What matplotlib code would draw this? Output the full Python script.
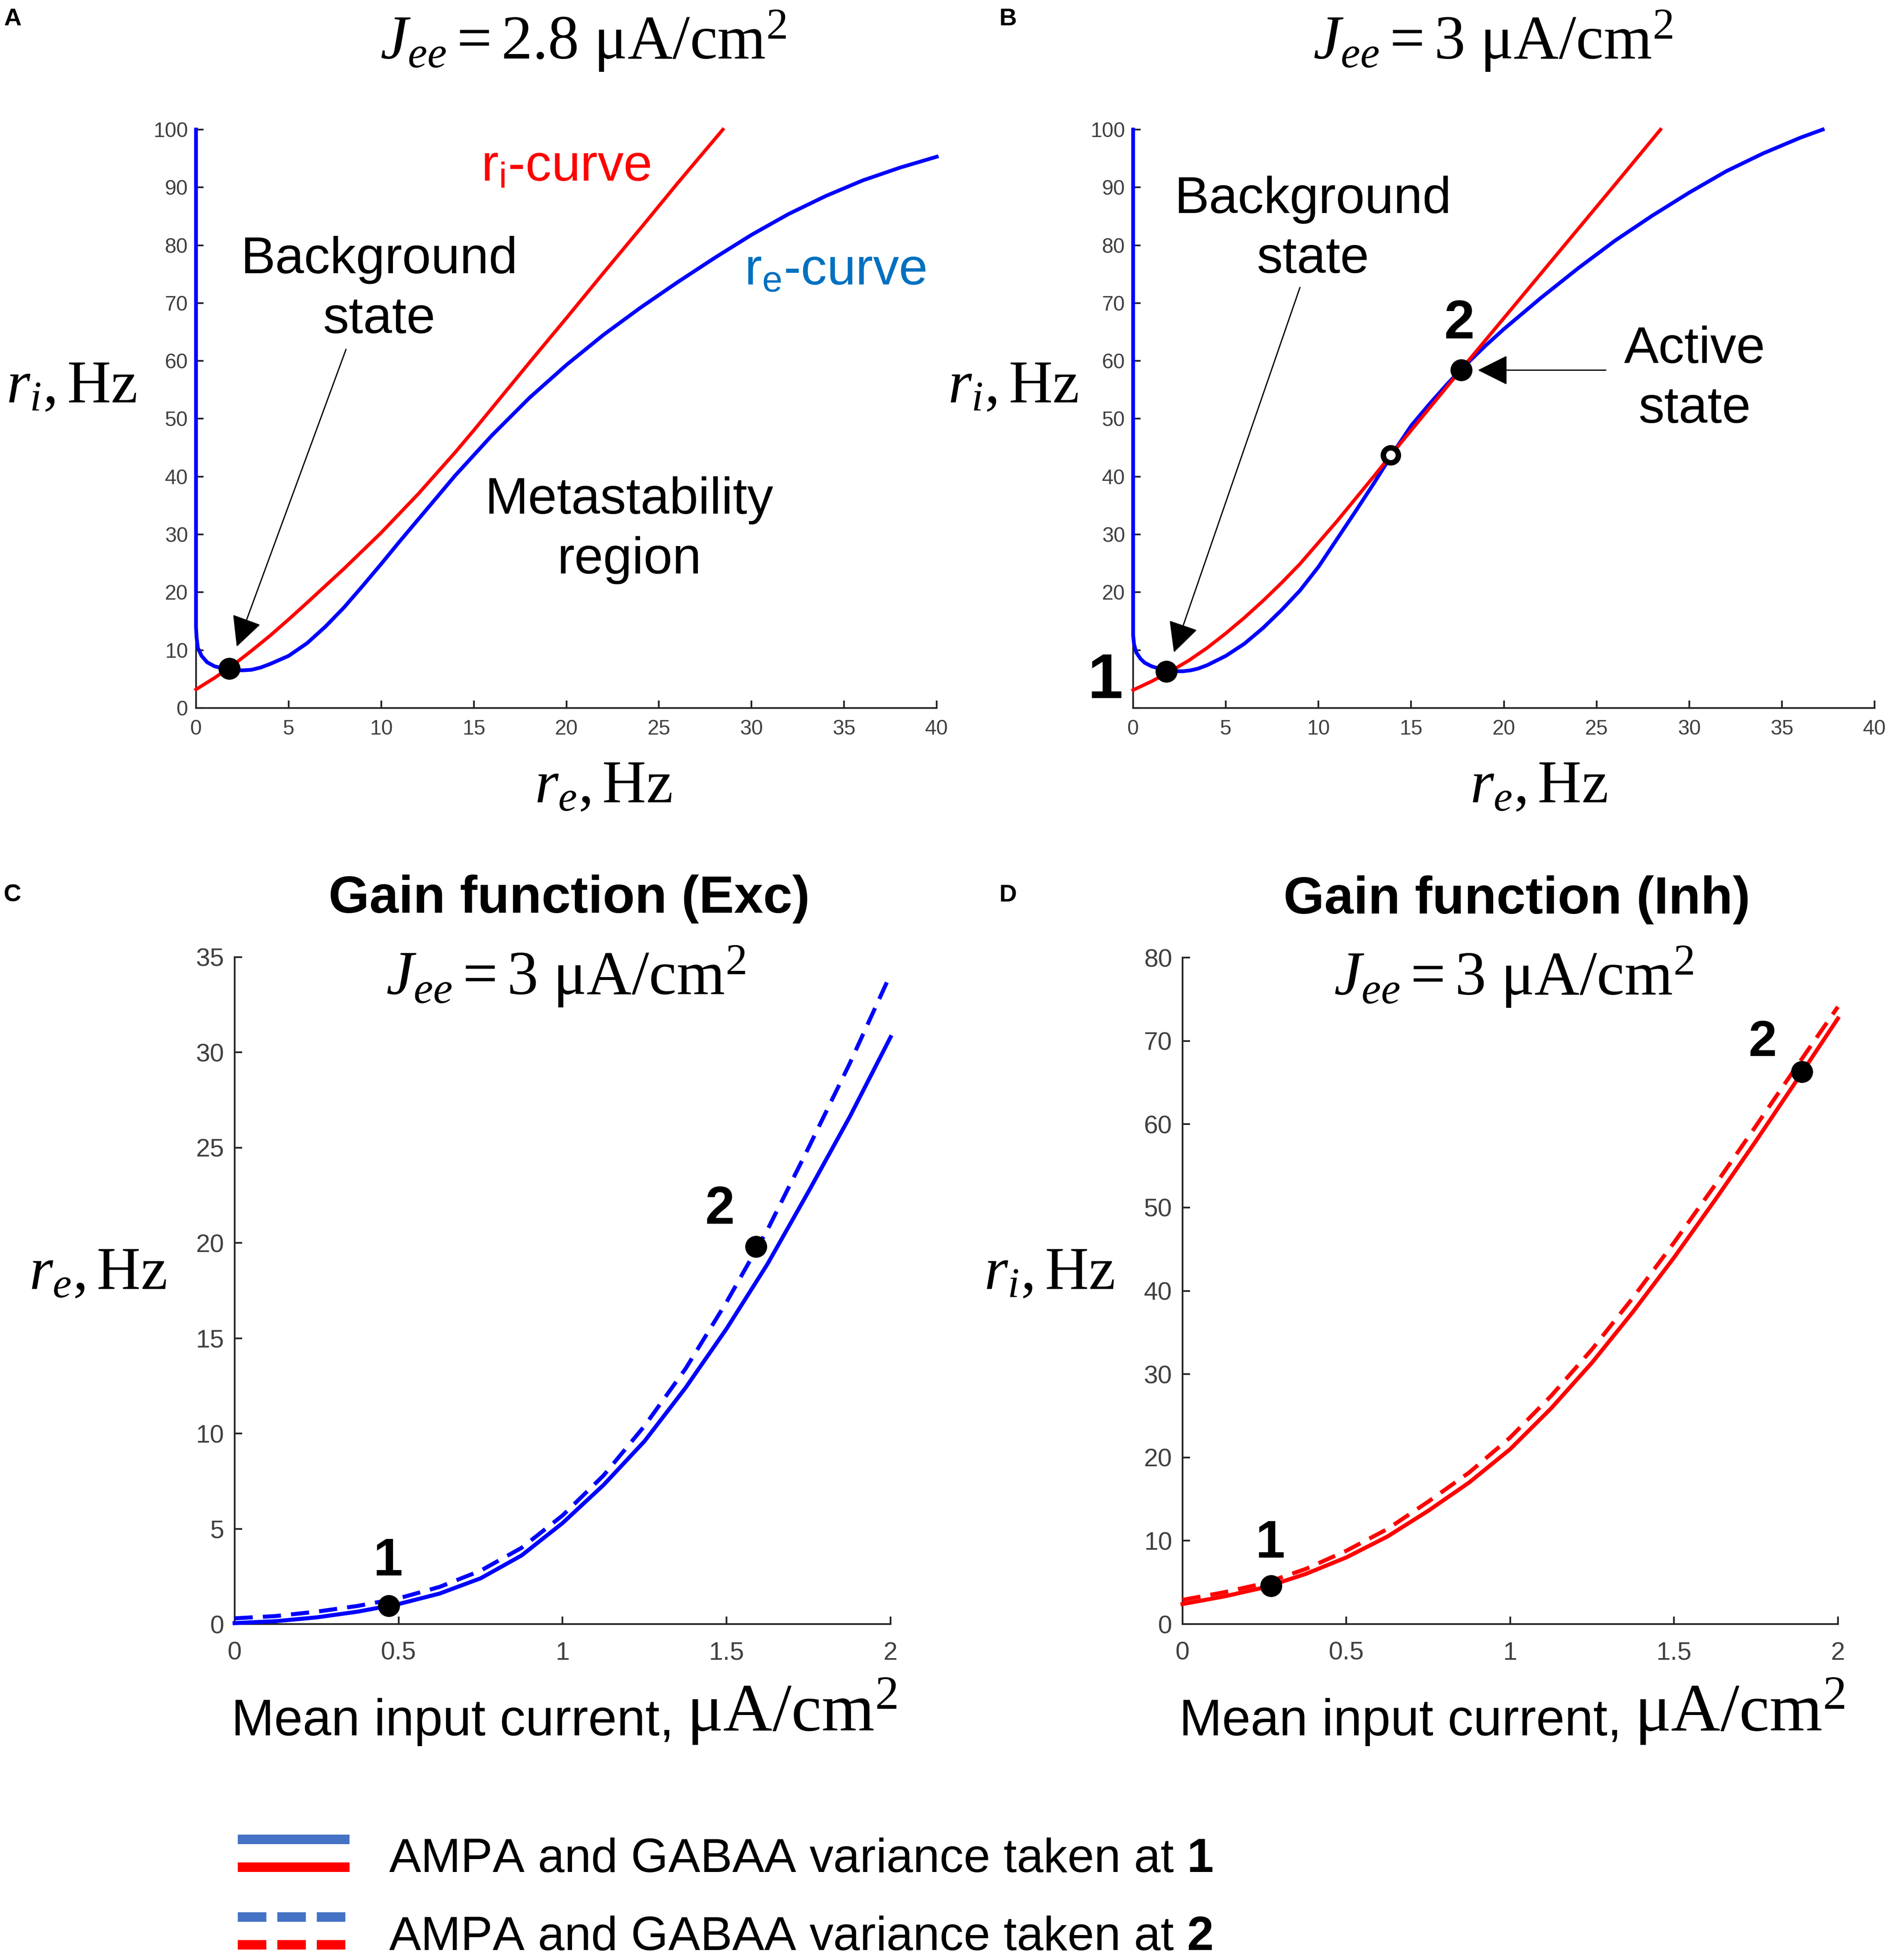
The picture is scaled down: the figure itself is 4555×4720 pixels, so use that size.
import matplotlib
matplotlib.use("Agg")
import matplotlib.pyplot as plt
from matplotlib.lines import Line2D
from matplotlib.legend_handler import HandlerBase
from matplotlib.ticker import MultipleLocator, FuncFormatter

plt.rcParams['font.family'] = ['Liberation Sans', 'DejaVu Sans']
plt.rcParams['mathtext.fontset'] = 'custom'
plt.rcParams['mathtext.rm'] = 'Liberation Serif'
plt.rcParams['mathtext.it'] = 'Liberation Serif:italic'
plt.rcParams['mathtext.bf'] = 'Liberation Sans:bold'

# ---- panel A : nullclines for Jee = 2.8 (r_e on x, r_i on y) ----
ri_curve_a_x = [0, 1, 2, 3, 4, 5, 6, 8, 10, 12, 14, 15, 16, 18, 20, 22, 24, 26, 28.45]
ri_curve_a_y = [3.2, 5.2, 7.4, 9.9, 12.5, 15.3, 18.2, 24.1, 30.3, 37.0, 44.2, 48.0, 51.9, 59.7, 67.4, 75.2, 82.9,
                90.7, 100]
re_curve_a_x = [0, 0, 0.03, 0.1, 0.3, 0.6, 1.0, 1.5, 2.0, 2.5, 3.0, 3.5, 4.0, 5.0, 6.0, 7.0, 8.0, 9, 10, 11, 12,
                14, 16, 18, 20, 22, 24, 26, 28, 30, 32, 34, 36, 38, 40]
re_curve_a_y = [100, 14, 12.2, 10.4, 9.0, 7.9, 7.2, 6.8, 6.6, 6.5, 6.6, 7.0, 7.6, 9.0, 11.2, 14.1, 17.4, 21.1, 24.9,
                28.8, 32.6, 40.2, 47.2, 53.6, 59.3, 64.5, 69.2, 73.6, 77.8, 81.8, 85.4, 88.5, 91.2, 93.4, 95.3]
fixed_a = (1.8, 6.8)

# ---- panel B : nullclines for Jee = 3 ----
ri_curve_b_x = [0, 1, 2, 3, 4, 5, 6, 7, 8, 9, 10, 11, 12, 13, 14, 15, 16, 17, 18, 20, 22, 24, 26, 28.45]
ri_curve_b_y = [3.1, 4.6, 6.3, 8.2, 10.4, 12.9, 15.6, 18.5, 21.6, 24.9, 28.6, 32.3, 36.2, 40.1, 44.1, 48.0, 51.9,
                55.8, 59.7, 67.4, 75.1, 82.8, 90.5, 100]
re_curve_b_x = [0, 0, 0.05, 0.17, 0.4, 0.63, 1.0, 1.3, 1.8, 2.2, 2.7, 3.1, 3.5, 4.0, 5.0, 6.0, 7.0, 8.0, 9.0, 10,
                11, 12, 13, 14, 15, 16, 17, 18, 19, 20, 22, 24, 26, 28, 30, 32, 34, 36, 37.2]
re_curve_b_y = [100, 12.6, 11.0, 9.6, 8.5, 7.8, 7.2, 6.9, 6.5, 6.35, 6.35, 6.5, 6.8, 7.4, 9.0, 11.1, 13.8, 16.9,
                20.3, 24.4, 29.2, 34.0, 38.9, 44.0, 48.8, 52.6, 56.2, 59.5, 62.6, 65.5, 70.9, 76.0, 80.8, 85.1,
                89.1, 92.8, 95.9, 98.6, 100]
stable_b_x = [1.8, 17.7]
stable_b_y = [6.3, 58.4]
unstable_b = (13.9, 43.7)

# ---- panel C / D : gain functions ----
current = [0, 0.125, 0.25, 0.375, 0.5, 0.625, 0.75, 0.875, 1.0, 1.125, 1.25, 1.375, 1.5, 1.625, 1.75, 1.875, 2.0]
exc_at1 = [0.05, 0.15, 0.35, 0.65, 1.05, 1.6, 2.4, 3.6, 5.3, 7.3, 9.6, 12.4, 15.5, 18.9, 22.7, 26.6, 30.8]
exc_at2 = [0.3, 0.42, 0.65, 0.95, 1.35, 1.95, 2.8, 4.0, 5.7, 7.8, 10.4, 13.4, 16.9, 20.7, 25.0, 29.4, 34.1]
inh_at1 = [2.4, 3.3, 4.4, 6.0, 8.0, 10.5, 13.6, 17.0, 21.0, 25.9, 31.4, 37.5, 44.0, 50.9, 58.0, 65.3, 72.7]
inh_at2 = [2.9, 3.8, 4.9, 6.6, 8.8, 11.4, 14.7, 18.2, 22.4, 27.4, 33.0, 39.2, 45.8, 52.7, 59.8, 67.0, 74.1]
exc_pts_x = [0.47, 1.59]
exc_pts_y = [0.95, 19.8]
inh_pts_x = [0.27, 1.89]
inh_pts_y = [4.6, 66.3]

legend_labels = [r'AMPA and GABAA variance taken at $\mathbf{1}$',
                 r'AMPA and GABAA variance taken at $\mathbf{2}$']

BLUE = '#0000ff'
RED = '#ff0000'
AXIS_GRAY = '#262626'
TICK_GRAY = '#404040'
TITLE_SIZE = 108
LABEL_SIZE = 105
LSP = 1.31

fig = plt.figure(figsize=(45.5501, 47.2001), dpi=100)
ax_a = fig.add_axes([0.1036, 0.6388, 0.3915, 0.2951])
ax_b = fig.add_axes([0.5989, 0.6388, 0.3919, 0.2951])
ax_c = fig.add_axes([0.1240, 0.1714, 0.3467, 0.3403])
ax_d = fig.add_axes([0.6250, 0.1714, 0.3464, 0.3400])


def style_axes(ax, xmax, ymax, xstep, ystep, size, padx, pady):
    ax.set_xlim(0, xmax)
    ax.set_ylim(0, ymax)
    ax.xaxis.set_major_locator(MultipleLocator(xstep))
    ax.yaxis.set_major_locator(MultipleLocator(ystep))
    fmt = FuncFormatter(lambda v, p: f'{v:g}')
    ax.xaxis.set_major_formatter(fmt)
    ax.yaxis.set_major_formatter(fmt)
    ax.spines[['top', 'right']].set_visible(False)
    for side in ('left', 'bottom'):
        ax.spines[side].set_linewidth(3)
        ax.spines[side].set_color(AXIS_GRAY)
    ax.tick_params(direction='in', length=13, width=3, color=AXIS_GRAY,
                   labelcolor=TICK_GRAY, labelsize=size)
    ax.tick_params(axis='x', pad=padx)
    ax.tick_params(axis='y', pad=pady)


def arrow(ax, tip, tail):
    ax.annotate('', xy=tip, xytext=tail,
                arrowprops=dict(arrowstyle='-|>,head_length=0.4,head_width=0.2', mutation_scale=115,
                                color='k', lw=2.2, shrinkA=0, shrinkB=0))


def dot(ax, x, y, filled=True):
    if filled:
        ax.plot(x, y, 'o', ms=37, color='k', zorder=6, clip_on=False)
    else:
        ax.plot(x, y, 'o', ms=26, mfc='white', mec='k', mew=9.5, zorder=6, clip_on=False)


# ---------- A ----------
style_axes(ax_a, 40, 100, 5, 10, 36, 20, 14)
ax_a.plot(re_curve_a_x, re_curve_a_y, color=BLUE, lw=6.5, clip_on=False, zorder=3)
ax_a.plot(ri_curve_a_x, ri_curve_a_y, color=RED, lw=6, clip_on=False, zorder=4)
dot(ax_a, fixed_a[0], fixed_a[1])
arrow(ax_a, (2.2, 10.6), (8.1, 62))
ax_a.text(9.9, 72.3, 'Background\nstate', fontsize=90, ha='center', va='center', linespacing=LSP)
ax_a.text(23.4, 30.7, 'Metastability\nregion', fontsize=90, ha='center', va='center', linespacing=LSP)
ax_a.text(15.4, 91.1, r'r$_\mathregular{i}$-curve', fontsize=90, color=RED, ha='left', va='baseline')
ax_a.text(29.6, 73.2, r'r$_\mathregular{e}$-curve', fontsize=90, color='#0070c0', ha='left', va='baseline')
ax_a.text(0.523, 1.153, r'$J_{ee}=2.8\ \mathrm{\mu A/cm^2}$', transform=ax_a.transAxes,
          fontsize=TITLE_SIZE, ha='center', va='center')
ax_a.text(-0.08, 0.555, r'$r_i,\mathrm{Hz}$', transform=ax_a.transAxes,
          fontsize=LABEL_SIZE, ha='right', va='center')
ax_a.text(0.55, -0.136, r'$r_e,\mathrm{Hz}$', transform=ax_a.transAxes,
          fontsize=LABEL_SIZE, ha='center', va='center')

# ---------- B ----------
style_axes(ax_b, 40, 100, 5, 10, 36, 20, 14)
# the big "1" sits where the 0 and 10 labels would be
ax_b.yaxis.set_major_formatter(FuncFormatter(lambda v, p: '' if v < 15 else f'{v:g}'))
ax_b.plot(re_curve_b_x, re_curve_b_y, color=BLUE, lw=6.5, clip_on=False, zorder=3)
ax_b.plot(ri_curve_b_x, ri_curve_b_y, color=RED, lw=6, clip_on=False, zorder=4)
dot(ax_b, stable_b_x, stable_b_y)
dot(ax_b, unstable_b[0], unstable_b[1], filled=False)
arrow(ax_b, (2.2, 9.6), (9.0, 72.7))
arrow(ax_b, (18.6, 58.4), (25.5, 58.4))
ax_b.text(9.7, 82.7, 'Background\nstate', fontsize=90, ha='center', va='center', linespacing=LSP)
ax_b.text(30.3, 56.8, 'Active\nstate', fontsize=90, ha='center', va='center', linespacing=LSP)
ax_b.text(17.6, 63.9, '2', fontsize=95, fontweight='bold', ha='center', va='baseline')
ax_b.text(-1.5, 1.7, '1', fontsize=110, fontweight='bold', ha='center', va='baseline', clip_on=False)
ax_b.text(0.485, 1.153, r'$J_{ee}=3\ \mathrm{\mu A/cm^2}$', transform=ax_b.transAxes,
          fontsize=TITLE_SIZE, ha='center', va='center')
ax_b.text(-0.074, 0.555, r'$r_i,\mathrm{Hz}$', transform=ax_b.transAxes,
          fontsize=LABEL_SIZE, ha='right', va='center')
ax_b.text(0.547, -0.136, r'$r_e,\mathrm{Hz}$', transform=ax_b.transAxes,
          fontsize=LABEL_SIZE, ha='center', va='center')

# ---------- C / D ----------
DASH = (0, (4.5, 2.5))
for ax, solid, dashed, color, px, py, ymax, ystep, ylab, title in (
        (ax_c, exc_at1, exc_at2, BLUE, exc_pts_x, exc_pts_y, 35, 5, r'$r_e,\mathrm{Hz}$', 'Gain function (Exc)'),
        (ax_d, inh_at1, inh_at2, RED, inh_pts_x, inh_pts_y, 80, 10, r'$r_i,\mathrm{Hz}$', 'Gain function (Inh)')):
    style_axes(ax, 2, ymax, 0.5, ystep, 44, 30, 18)
    ax.plot(current, solid, color=color, lw=7, clip_on=False, zorder=3)
    ax.plot(current, dashed, color=color, lw=7, ls=DASH, clip_on=False, zorder=3)
    dot(ax, px, py)
    ax.text(0.51, 1.087, title, transform=ax.transAxes, fontsize=91, fontweight='bold',
            ha='center', va='center')
    ax.text(0.505, 0.971, r'$J_{ee}=3\ \mathrm{\mu A/cm^2}$', transform=ax.transAxes,
            fontsize=TITLE_SIZE, ha='center', va='center')
    ax.text(-0.104, 0.526, ylab, transform=ax.transAxes, fontsize=LABEL_SIZE, ha='right', va='center')
    lab = ax.text(-0.005, -0.147, 'Mean input current,', transform=ax.transAxes, fontsize=89,
                  ha='left', va='center')
    ax.annotate(r'$\mathrm{\mu A/cm^2}$', xy=(1, 0), xycoords=lab, xytext=(22, 0),
                textcoords='offset points', fontsize=118, ha='left', va='bottom')

ax_c.text(0.468, 2.56, '1', fontsize=92, fontweight='bold', ha='center', va='baseline')
ax_c.text(1.48, 21.0, '2', fontsize=92, fontweight='bold', ha='center', va='baseline')
ax_d.text(0.268, 8.0, '1', fontsize=92, fontweight='bold', ha='center', va='baseline')
ax_d.text(1.77, 68.2, '2', fontsize=88, fontweight='bold', ha='center', va='baseline')

# panel letters
for letter, x, y in (('A', 0.002, 0.996), ('B', 0.528, 0.996), ('C', 0.002, 0.549), ('D', 0.528, 0.549)):
    fig.text(x, y, letter, fontsize=42, fontweight='bold', ha='left', va='top')


# ---------- legend ----------
class HandlerStacked(HandlerBase):
    def create_artists(self, legend, orig_handle, xdescent, ydescent, width, height, fontsize, trans):
        yc = (height - ydescent) / 2
        gap = 0.29 * fontsize
        out = []
        for proxy, y in zip(orig_handle, (yc + gap, yc - gap)):
            line = Line2D([-xdescent, width - xdescent], [y, y])
            line.update_from(proxy)
            line.set_transform(trans)
            out.append(line)
        return out


LEG_BLUE = '#4472c4'
solid_pair = (Line2D([], [], color=LEG_BLUE, lw=16.5, solid_capstyle='butt'),
              Line2D([], [], color=RED, lw=16.5, solid_capstyle='butt'))
dash_pair = (Line2D([], [], color=LEG_BLUE, lw=16.5, ls=(0, (3, 1.15))),
             Line2D([], [], color=RED, lw=16.5, ls=(0, (3, 1.15))))
fig.legend([solid_pair, dash_pair], legend_labels, handler_map={tuple: HandlerStacked()},
           loc='center left', bbox_to_anchor=(0.1256, 0.0322), bbox_transform=fig.transFigure,
           frameon=False, fontsize=83, handlelength=2.33, handleheight=1.0, handletextpad=0.83,
           labelspacing=0.63, borderpad=0, borderaxespad=0)

fig.savefig('out.png', dpi=100)
